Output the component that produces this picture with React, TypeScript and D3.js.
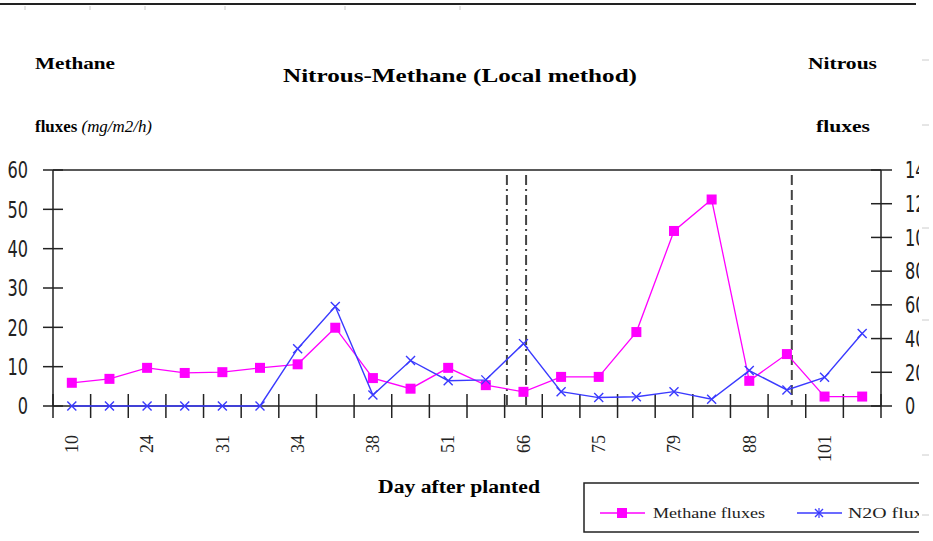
import React from "react";
import * as d3 from "d3";

const days = ["10","17","24","27","31","32","34","36","38","45","51","59","66","72","75","77","79","83","88","95","101","108"];
const methane = [5.9, 6.9, 9.7, 8.4, 8.6, 9.7, 10.6, 19.9, 7.1, 4.4, 9.7, 5.3, 3.6, 7.4, 7.4, 18.8, 44.5, 52.5, 6.4, 13.2, 2.4, 2.4];
const n2o = [0, 0, 0, 0, 0, 0, 34, 59, 6.5, 27, 15, 15.5, 37, 8.5, 5, 5.5, 8.5, 4, 21, 9.5, 17, 43];
const leftTicks = [0, 10, 20, 30, 40, 50, 60];
const rightTicks = [0, 20, 40, 60, 80, 100, 120, 140];
const eventPositions = [12.06, 12.57, 19.63];
const eventStyles = ["dashdot", "dashdot", "dash"];

export default function App() {
  const W = 933, H = 541;
  const left = 53, right = 881, top = 170, bottom = 406;
  const x = d3.scaleBand<string>().domain(days).range([left, right]);
  const bw = x.bandwidth();
  const cx = (i: number) => (x(days[i]) as number) + bw / 2;
  const yL = d3.scaleLinear().domain([0, 60]).range([bottom, top]);
  const yR = d3.scaleLinear().domain([0, 140]).range([bottom, top]);
  const evX = d3.scaleLinear().domain([0, days.length]).range([left, right]);

  const lineM = d3.line<number>().x((_, i) => cx(i)).y((d) => yL(d));
  const lineN = d3.line<number>().x((_, i) => cx(i)).y((d) => yR(d));

  const serif = "'Liberation Serif','Times New Roman',serif";
  const narrow = "'Liberation Sans Narrow','DejaVu Sans Condensed',sans-serif";
  const magenta = "#ff00ff";
  const blue = "#3a3aff";

  const xMarker = (px: number, py: number, s: number, key: any) => (
    <path key={key} d={`M${px - s},${py - s}L${px + s},${py + s}M${px - s},${py + s}L${px + s},${py - s}`} stroke={blue} strokeWidth={1.4} fill="none" />
  );

  return (
    <svg width={W} height={H} style={{ position: "fixed", left: 0, top: 0, background: "#fff" }}>
      <defs>
        <clipPath id="clipR"><rect x={0} y={0} width={919} height={H} /></clipPath>
      </defs>
      <rect x={0} y={0} width={W} height={H} fill="#fff" />
      <line x1={0} x2={916} y1={4} y2={4} stroke="#222" strokeWidth={2} />
      {[25, 90, 145, 225, 345, 460].map((t, i) => (
        <line key={i} x1={t} x2={t} y1={6} y2={10} stroke="#ccc" strokeWidth={1} />
      ))}
      {[60, 125, 228, 320, 455, 515].map((t, i) => (
        <line key={"r" + i} x1={922} x2={929} y1={t} y2={t} stroke="#ccc" strokeWidth={1} />
      ))}

      {/* texts */}
      <text x={35} y={69} fontFamily={serif} fontWeight="bold" fontSize={17} textLength={80} lengthAdjust="spacingAndGlyphs">Methane</text>
      <text x={35} y={132} fontFamily={serif} fontSize={17} textLength={117} lengthAdjust="spacingAndGlyphs">
        <tspan fontWeight="bold">fluxes</tspan> <tspan fontStyle="italic">(mg/m2/h)</tspan>
      </text>
      <text x={283} y={82} fontFamily={serif} fontWeight="bold" fontSize={19} textLength={354} lengthAdjust="spacingAndGlyphs">Nitrous-Methane  (Local method)</text>
      <text x={808} y={69} fontFamily={serif} fontWeight="bold" fontSize={17} textLength={69} lengthAdjust="spacingAndGlyphs">Nitrous</text>
      <text x={816} y={132} fontFamily={serif} fontWeight="bold" fontSize={17} textLength={54} lengthAdjust="spacingAndGlyphs">fluxes</text>
      <text x={378} y={493} fontFamily={serif} fontWeight="bold" fontSize={18} textLength={162} lengthAdjust="spacingAndGlyphs">Day after planted</text>

      {/* frame */}
      <line x1={left} x2={right} y1={top} y2={top} stroke="#222" strokeWidth={1.5} />
      <line x1={left} x2={left} y1={top} y2={bottom} stroke="#222" strokeWidth={1.5} />
      <line x1={right} x2={right} y1={top} y2={bottom} stroke="#222" strokeWidth={1.5} />
      <line x1={left} x2={right} y1={bottom} y2={bottom} stroke="#222" strokeWidth={1.5} />

      {/* left axis */}
      {leftTicks.map((t) => (
        <g key={"l" + t}>
          <line x1={left - 10} x2={left + 10} y1={yL(t)} y2={yL(t)} stroke="#222" strokeWidth={1.5} />
          <text transform={`translate(28,${yL(t)}) scale(0.78,1)`} dy="0.36em" textAnchor="end" fontFamily={narrow} fontSize={23} fill="#222">{t}</text>
        </g>
      ))}
      {/* right axis */}
      <g clipPath="url(#clipR)">
        {rightTicks.map((t) => (
          <g key={"r" + t}>
            <line x1={right - 10} x2={right + 11} y1={yR(t)} y2={yR(t)} stroke="#222" strokeWidth={1.5} />
            <text transform={`translate(905,${yR(t)}) scale(0.78,1)`} dy="0.36em" fontFamily={narrow} fontSize={23} fill="#222">{t}</text>
          </g>
        ))}
      </g>
      {/* x ticks */}
      {d3.range(days.length + 1).map((i) => {
        const px = left + i * bw;
        return <line key={"x" + i} x1={px} x2={px} y1={bottom - 12} y2={bottom + 12} stroke="#222" strokeWidth={1.5} />;
      })}
      {days.map((d, i) => (i % 2 === 0 ? (
        <text key={"xl" + i} transform={`translate(${cx(i)},435) rotate(-90)`} dy="0.35em" textAnchor="end" fontFamily={serif} fontSize={18} fill="#222">{d}</text>
      ) : null))}

      {/* event lines */}
      {eventPositions.map((p, i) => (
        <line key={"e" + i} x1={evX(p)} x2={evX(p)} y1={175} y2={bottom} stroke="#444" strokeWidth={2}
          strokeDasharray={eventStyles[i] === "dash" ? "10,5" : "10,4,2,4"} />
      ))}

      {/* series */}
      <path d={lineM(methane) as string} fill="none" stroke={magenta} strokeWidth={1.3} />
      {methane.map((v, i) => (
        <rect key={"m" + i} x={cx(i) - 5} y={yL(v) - 5} width={10} height={10} fill={magenta} />
      ))}
      <path d={lineN(n2o) as string} fill="none" stroke={blue} strokeWidth={1.4} />
      {n2o.map((v, i) => xMarker(cx(i), yR(v), 4.5, "n" + i))}

      {/* legend */}
      <g clipPath="url(#clipR)">
        <rect x={584} y={483} width={360} height={49} fill="#fff" stroke="#222" strokeWidth={1.5} />
        <line x1={600} x2={645} y1={513} y2={513} stroke={magenta} strokeWidth={1.5} />
        <rect x={617} y={508} width={10} height={10} fill={magenta} />
        <text x={653} y={518} fontFamily={serif} fontSize={15} fill="#222" textLength={112} lengthAdjust="spacingAndGlyphs">Methane fluxes</text>
        <line x1={797} x2={842} y1={513} y2={513} stroke={blue} strokeWidth={1.5} />
        {xMarker(819, 513, 4, "lg")}
        <line x1={819} x2={819} y1={508} y2={518} stroke={blue} strokeWidth={1.2} />
        <text x={848} y={518} fontFamily={serif} fontSize={15} fill="#222" textLength={92} lengthAdjust="spacingAndGlyphs">N2O fluxes</text>
      </g>
    </svg>
  );
}
